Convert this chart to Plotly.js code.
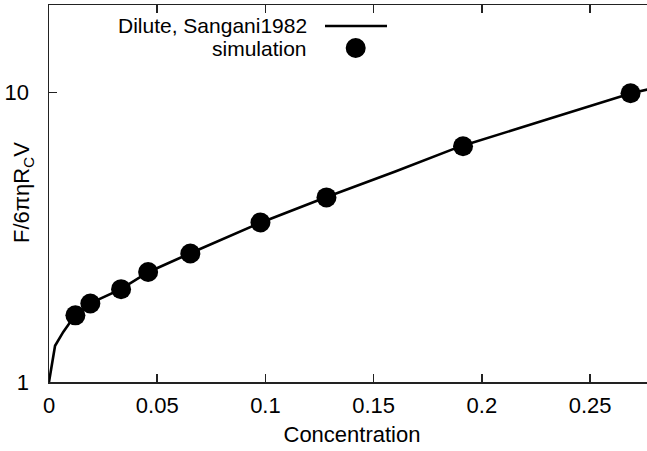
<!DOCTYPE html>
<html>
<head>
<meta charset="utf-8">
<script src="https://cdn.plot.ly/plotly-3.0.1.min.js"></script>
<style>
html,body{margin:0;padding:0;overflow:hidden;background:#fff;width:647px;height:451px;}
#chart{width:655px;height:451px;}
</style>
</head>
<body>
<div id="chart"></div>
<script>
// Dilute theory curve (Sangani 1982)
const concCurve = [0, 0.0028, 0.0066, 0.012, 0.019, 0.033, 0.046, 0.065, 0.098, 0.128, 0.16, 0.19, 0.23, 0.269, 0.28];
const forceCurve = [1, 1.334, 1.49, 1.70, 1.87, 2.09, 2.40, 2.78, 3.56, 4.35, 5.34, 6.52, 8.07, 9.95, 10.4];

// Simulation points
const concSim = [0.0122, 0.0191, 0.0333, 0.0458, 0.0653, 0.0977, 0.1282, 0.1913, 0.2687];
const forceSim = [1.70, 1.868, 2.093, 2.40, 2.78, 3.56, 4.345, 6.53, 9.95];

const xTicks = [0, 0.05, 0.1, 0.15, 0.2, 0.25];
const yTicks = [1, 10];
const yTickText = ['1', '10'];

const FONT = 'Liberation Sans, Arial, Helvetica, sans-serif';
const FS = 22;
const LFS = 21;

const traces = [
  {x: concCurve, y: forceCurve, mode: 'lines', type: 'scatter',
   line: {color: '#000', width: 2.6}, name: 'Dilute, Sangani1982', showlegend: false},
  {x: concSim, y: forceSim, mode: 'markers', type: 'scatter',
   marker: {color: '#000', size: 20}, name: 'simulation', showlegend: false}
];

// plot area: 49 -> 655 px wide (606), 5 -> 382 px tall (377)
const W = 606, H = 377;
const px = v => (v - 49) / W;
const py = v => (382 - v) / H;

const layout = {
  width: 655, height: 451,
  margin: {l: 49, r: 0, t: 5, b: 69},
  paper_bgcolor: '#fff', plot_bgcolor: '#fff',
  font: {family: FONT, size: FS, color: '#000'},
  showlegend: false,
  xaxis: {
    range: [0, 0.28], tickvals: xTicks, ticks: 'inside', ticklen: 8, tickwidth: 1.5,
    tickcolor: '#222', showline: true, linecolor: '#222', linewidth: 1.5, mirror: 'ticks',
    showgrid: false, zeroline: false, ticklabelstandoff: 3,
    tickfont: {family: FONT, size: FS, color: '#000'},
    title: {text: 'Concentration', font: {family: FONT, size: FS, color: '#000'}, standoff: 9}
  },
  yaxis: {
    type: 'log', range: [0, 1.303], tickvals: yTicks, ticktext: yTickText,
    ticks: 'inside', ticklen: 8, tickwidth: 1.5, tickcolor: '#222',
    showline: true, linecolor: '#222', linewidth: 1.5, mirror: 'ticks',
    showgrid: false, zeroline: false, ticklabelstandoff: 14,
    tickfont: {family: FONT, size: FS, color: '#000'}
  },
  annotations: [
    {xref: 'paper', yref: 'paper', x: px(23), y: py(193), xanchor: 'center', yanchor: 'middle',
     textangle: -90, text: 'F/6πηR<sub>C</sub>V', showarrow: false,
     font: {family: FONT, size: FS, color: '#000'}},
    {xref: 'paper', yref: 'paper', x: px(309), y: py(25.5), xanchor: 'right', yanchor: 'middle',
     text: 'Dilute, Sangani1982', showarrow: false, font: {family: FONT, size: LFS, color: '#000'}},
    {xref: 'paper', yref: 'paper', x: px(309), y: py(48.5), xanchor: 'right', yanchor: 'middle',
     text: 'simulation', showarrow: false, font: {family: FONT, size: LFS, color: '#000'}}
  ],
  shapes: [
    {type: 'line', xref: 'paper', yref: 'paper', x0: px(325), x1: px(387), y0: py(26), y1: py(26),
     line: {color: '#000', width: 2.6}},
    {type: 'circle', xref: 'paper', yref: 'paper', xsizemode: 'pixel', ysizemode: 'pixel',
     xanchor: px(355.7), yanchor: py(48), x0: -10, x1: 10, y0: -10, y1: 10,
     fillcolor: '#000', line: {color: '#000', width: 0}}
  ]
};

Plotly.newPlot('chart', traces, layout, {displayModeBar: false, staticPlot: true});
</script>
</body>
</html>
